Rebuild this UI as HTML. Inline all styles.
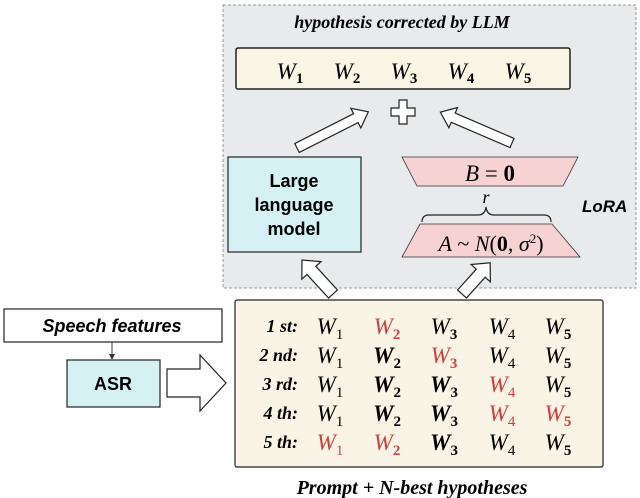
<!DOCTYPE html>
<html><head><meta charset="utf-8"><style>
html,body{margin:0;padding:0;background:#fff;}
svg{display:block;}
.it{font-family:"Liberation Serif",serif;font-style:italic;font-weight:bold;}
.w{font-family:"Liberation Serif",serif;font-style:italic;font-size:23px;}
.s{font-family:"Liberation Serif",serif;font-style:normal;font-size:15px;}
.b{font-weight:bold;}
.sans{font-family:"Liberation Sans",sans-serif;font-weight:bold;}
</style></head><body>
<svg width="640" height="498" viewBox="0 0 640 498" xmlns="http://www.w3.org/2000/svg">
<rect x="223" y="5" width="413" height="283" fill="#e8eaeb" stroke="#999" stroke-dasharray="3,2"/>
<text x="402" y="28" text-anchor="middle" class="it" font-size="18">hypothesis corrected by LLM</text>
<rect x="236" y="48" width="334" height="41" rx="2" fill="#faf6e6" stroke="#222" stroke-width="1.5"/>
<g class="w" text-anchor="middle" font-size="27">
<text x="290" y="79">W<tspan class="s b" font-size="17" dy="4">1</tspan></text>
<text x="347" y="79">W<tspan class="s b" font-size="17" dy="4">2</tspan></text>
<text x="404" y="79">W<tspan class="s b" font-size="17" dy="4">3</tspan></text>
<text x="461" y="79">W<tspan class="s b" font-size="17" dy="4">4</tspan></text>
<text x="518" y="79">W<tspan class="s b" font-size="17" dy="4">5</tspan></text>
</g>
<path d="M399,100h8v8h8v8h-8v8h-8v-8h-8v-8h8z" fill="#fff" stroke="#222" stroke-width="1.2"/>
<g fill="#fff" stroke="#222" stroke-width="1.2">
<g transform="translate(297,148) rotate(-26.9)"><polygon points="0,-5 66,-5 66,-11 80,0 66,11 66,5 0,5"/></g>
<g transform="translate(512,143) rotate(-156.7)"><polygon points="0,-5 64,-5 64,-11 78,0 64,11 64,5 0,5"/></g>
<g transform="translate(333,294) rotate(-132.4)"><polygon points="0,-6 32,-6 32,-13 46,0 32,13 32,6 0,6"/></g>
<g transform="translate(462,294) rotate(-47.9)"><polygon points="0,-6 28,-6 28,-13 42,0 28,13 28,6 0,6"/></g>
<polygon points="167,369 200,369 200,355 226,383 200,411 200,397 167,397"/>
</g>
<rect x="228" y="157" width="133" height="95" fill="#d5f1f3" stroke="#222" stroke-width="1.2"/>
<g class="sans" font-size="18" text-anchor="middle">
<text x="294" y="187">Large</text><text x="294" y="211">language</text><text x="294" y="235">model</text>
</g>
<polygon points="402,157 578,157 563,186 417,186" fill="#f6d2d2" stroke="#333" stroke-width="0.8"/>
<text x="490" y="181" text-anchor="middle" font-family="Liberation Serif,serif" font-size="23"><tspan font-style="italic">B</tspan> = <tspan font-weight="bold">0</tspan></text>
<text x="486" y="203" text-anchor="middle" font-family="Liberation Serif,serif" font-style="italic" font-size="18">r</text>
<path d="M422,222 q0,-7 7,-7 h49 q7,0 8,-8 q1,8 8,8 h50 q7,0 7,7" fill="none" stroke="#222" stroke-width="1.2"/>
<polygon points="420,224 552,224 580,257 402,257" fill="#f6d2d2" stroke="#333" stroke-width="0.8"/>
<text x="491" y="251" text-anchor="middle" font-family="Liberation Serif,serif" font-size="22"><tspan font-style="italic">A</tspan> ~ <tspan font-style="italic">N</tspan>(<tspan font-weight="bold">0</tspan>, <tspan font-style="italic">σ</tspan><tspan font-size="13" dy="-8">2</tspan><tspan dy="8">)</tspan></text>
<text x="582" y="212" class="sans" font-style="italic" font-size="17">LoRA</text>
<rect x="4" y="309" width="218" height="33" fill="#fff" stroke="#222" stroke-width="1.2"/>
<text x="112" y="332" text-anchor="middle" class="sans" font-style="italic" font-size="18">Speech features</text>
<line x1="112" y1="342" x2="112" y2="356" stroke="#333"/>
<polygon points="109,354 115,354 112,360" fill="#333"/>
<rect x="67" y="360" width="93" height="47" fill="#d5f1f3" stroke="#222" stroke-width="1.2"/>
<text x="113" y="390" text-anchor="middle" class="sans" font-size="18">ASR</text>
<rect x="235" y="300" width="368" height="167" rx="2" fill="#faf4e6" stroke="#222" stroke-width="1.2"/>
<g class="it" font-size="18" text-anchor="end">
<text x="298" y="332">1 st:</text><text x="298" y="361">2 nd:</text><text x="298" y="390">3 rd:</text><text x="298" y="419">4 th:</text><text x="298" y="448">5 th:</text>
</g>
<g class="w" text-anchor="middle" font-size="25">
<text x="330" y="334">W<tspan class="s" dy="5">1</tspan></text>
<text x="387" y="334" fill="#d04040">W<tspan class="s b" dy="5">2</tspan></text>
<text x="444" y="334">W<tspan class="s b" dy="5">3</tspan></text>
<text x="502" y="334">W<tspan class="s" dy="5">4</tspan></text>
<text x="558" y="334">W<tspan class="s b" dy="5">5</tspan></text>
<text x="330" y="363">W<tspan class="s" dy="5">1</tspan></text>
<text x="387" y="363" font-weight="bold">W<tspan class="s b" dy="5">2</tspan></text>
<text x="444" y="363" fill="#d04040">W<tspan class="s b" dy="5">3</tspan></text>
<text x="502" y="363">W<tspan class="s" dy="5">4</tspan></text>
<text x="558" y="363">W<tspan class="s b" dy="5">5</tspan></text>
<text x="330" y="392">W<tspan class="s" dy="5">1</tspan></text>
<text x="387" y="392" font-weight="bold">W<tspan class="s b" dy="5">2</tspan></text>
<text x="444" y="392" font-weight="bold">W<tspan class="s b" dy="5">3</tspan></text>
<text x="502" y="392" fill="#d04040">W<tspan class="s" dy="5">4</tspan></text>
<text x="558" y="392">W<tspan class="s b" dy="5">5</tspan></text>
<text x="330" y="421">W<tspan class="s" dy="5">1</tspan></text>
<text x="387" y="421" font-weight="bold">W<tspan class="s b" dy="5">2</tspan></text>
<text x="444" y="421" font-weight="bold">W<tspan class="s b" dy="5">3</tspan></text>
<text x="502" y="421" fill="#d04040">W<tspan class="s" dy="5">4</tspan></text>
<text x="558" y="421" fill="#d04040">W<tspan class="s b" dy="5">5</tspan></text>
<text x="330" y="450" fill="#d04040">W<tspan class="s" dy="5">1</tspan></text>
<text x="387" y="450" fill="#d04040">W<tspan class="s b" dy="5">2</tspan></text>
<text x="444" y="450" font-weight="bold">W<tspan class="s b" dy="5">3</tspan></text>
<text x="502" y="450">W<tspan class="s" dy="5">4</tspan></text>
<text x="558" y="450">W<tspan class="s b" dy="5">5</tspan></text>
</g>
<text x="412" y="494" text-anchor="middle" class="it" font-size="20">Prompt + N-best hypotheses</text>
</svg>
</body></html>
